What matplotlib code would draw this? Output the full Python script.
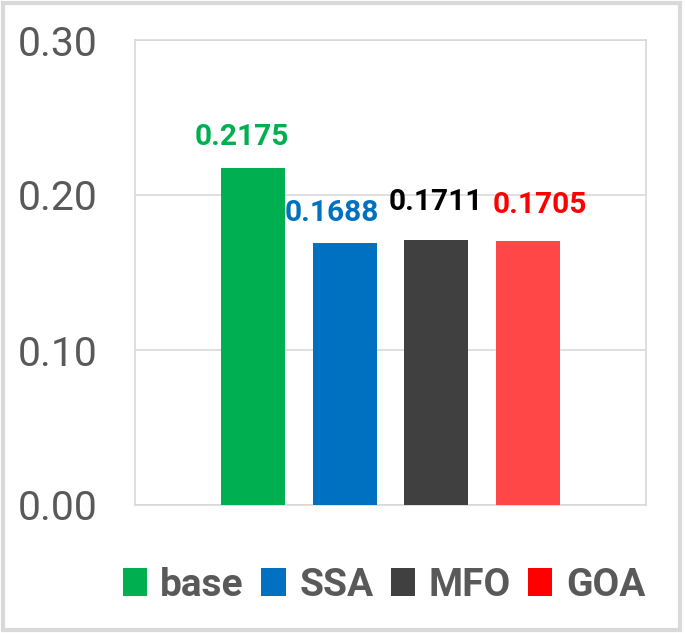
import matplotlib
matplotlib.use('Agg')
import matplotlib.pyplot as plt
from matplotlib.patches import Patch, Rectangle

# data
methods = ['base', 'SSA', 'MFO', 'GOA']
values = [0.2175, 0.1688, 0.1711, 0.1705]
value_labels = ['0.2175', '0.1688', '0.1711', '0.1705']
yticks = [0.00, 0.10, 0.20, 0.30]
ytick_labels = ['0.00', '0.10', '0.20', '0.30']

# styling
bar_colors = ['#00B050', '#0070C0', '#404040', '#FF4747']
legend_colors = ['#00B050', '#0070C0', '#404040', '#FF0000']
label_colors = ['#00B050', '#0070C0', '#000000', '#FF0000']
label_offsets = [(-8, 12), (-9, 12), (0, 17), (9, 16)]   # points (dx, dy)
GRID = '#D9D9D9'
TEXT = '#595959'

fig = plt.figure(figsize=(6.85, 6.33), dpi=100)
ax = fig.add_axes([135 / 685, 1 - 505 / 633, 511 / 685, 465 / 633])

x = list(range(len(methods)))
ax.bar(x, values, width=0.7, color=bar_colors, zorder=3)

for xi, v, lab, col, (dx, dy) in zip(x, values, value_labels, label_colors, label_offsets):
    ax.annotate(lab, xy=(xi, v), xytext=(dx, dy), textcoords='offset points',
                ha='center', va='bottom', fontsize=21.5, fontweight='bold',
                color=col, family='Roboto', zorder=4)

ax.set_xlim(-1.29, 4.29)
ax.set_ylim(0, 0.30)
ax.set_yticks(yticks)
ax.set_yticklabels(ytick_labels, fontsize=29.5, color=TEXT,
                   family='Roboto', fontweight='normal')
ax.set_xticks([])
ax.tick_params(axis='y', length=0, pad=27)
ax.yaxis.grid(True, color=GRID, linewidth=1.2, zorder=0)
for s in ax.spines.values():
    s.set_color(GRID)
    s.set_linewidth(1.2)

handles = [Patch(facecolor=c, edgecolor='none') for c in legend_colors]
leg = fig.legend(handles, methods, loc='center', ncol=4,
                 bbox_to_anchor=(384 / 685, 1 - 585 / 633),
                 frameon=False, handlelength=0.62, handleheight=0.7,
                 handletextpad=0.35, columnspacing=0.45,
                 prop={'family': 'Roboto', 'weight': 'bold', 'size': 28})
for t in leg.get_texts():
    t.set_color(TEXT)

# outer chart border
fig.patches.append(Rectangle((3 / 685, 3 / 633), 677 / 685, 627 / 633,
                             transform=fig.transFigure, fill=False,
                             edgecolor=GRID, linewidth=3))

fig.savefig('out.png', dpi=100, facecolor='white')
